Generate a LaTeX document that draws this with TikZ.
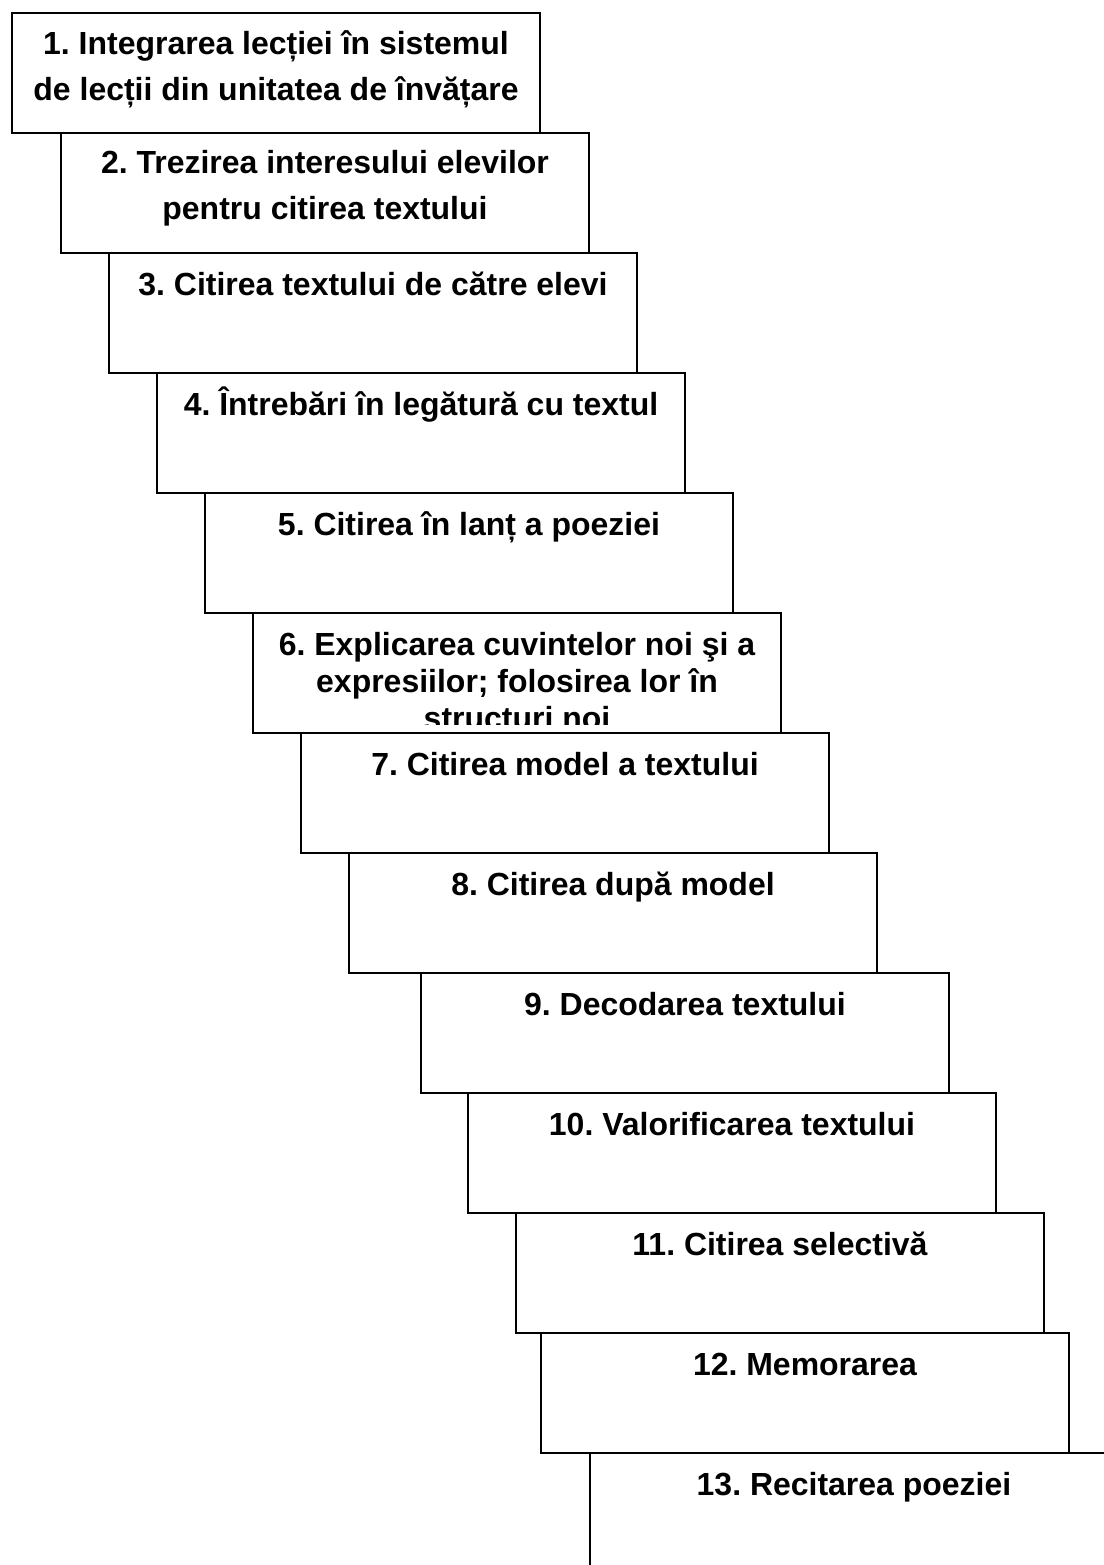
\documentclass[tikz,border=0pt]{standalone}
\usepackage{fontspec}
\setmainfont{Liberation Sans}
\frenchspacing

\tikzset{
  stepbox/.style={draw, fill=white, line width=1.2pt, minimum width=10.56cm,
    minimum height=2.4cm, inner sep=0pt, anchor=north west},
  steptext/.style={font=\bfseries\fontsize{18.2}{26}\selectfont, align=center,
    anchor=base, inner sep=0pt},
}

\begin{document}
\begin{tikzpicture}[x=0.02cm, y=-0.02cm]
\clip (0,0) rectangle (1104,1565);

% Steps 1-5 (base anchor sits on the last line)
\node[stepbox] (s1) at (11,12) {};
\node[steptext] (t1) at ([yshift=-50.4pt]s1.north) {1. Integrarea lecției în sistemul\\de lecții din unitatea de învățare};
\node[stepbox] (s2) at (60,132) {};
\node[steptext] (t2) at ([yshift=-49.8pt]s2.north) {2. Trezirea interesului elevilor\\pentru citirea textului};
\node[stepbox] (s3) at (108,252) {};
\node[steptext] (t3) at ([yshift=-24.5pt]s3.north) {3. Citirea textului de către elevi};
\node[stepbox] (s4) at (156,372) {};
\node[steptext] (t4) at ([yshift=-24.5pt]s4.north) {4. Întrebări în legătură cu textul};
\node[stepbox] (s5) at (204,492) {};
\node[steptext] (t5) at ([yshift=-24.5pt]s5.north) {5. Citirea în lanț a poeziei};

% Step 6 (text runs past the box)
\node[stepbox] (s6) at (252,612) {};
\begin{scope}
\clip (s6.north west) rectangle ([yshift=5.7pt]s6.south east);
\node[steptext, font=\bfseries\fontsize{18.2}{21}\selectfont] (t6) at ([yshift=-66.6pt]s6.north)
  {6. Explicarea cuvintelor noi şi a\\expresiilor; folosirea lor în\\structuri noi};
\end{scope}

% Steps 7-13
\node[stepbox] (s7) at (300,732) {};
\node[steptext] (t7) at ([yshift=-24.5pt]s7.north) {7. Citirea model a textului};
\node[stepbox] (s8) at (348,852) {};
\node[steptext] (t8) at ([yshift=-24.5pt]s8.north) {8. Citirea după model};
\node[stepbox] (s9) at (420,972) {};
\node[steptext] (t9) at ([yshift=-24.5pt]s9.north) {9. Decodarea textului};
\node[stepbox] (s10) at (467,1092) {};
\node[steptext] (t10) at ([yshift=-24.5pt]s10.north) {10. Valorificarea textului};
\node[stepbox] (s11) at (515,1212) {};
\node[steptext] (t11) at ([yshift=-24.5pt]s11.north) {11. Citirea selectivă};
\node[stepbox] (s12) at (540,1332) {};
\node[steptext] (t12) at ([yshift=-24.5pt]s12.north) {12. Memorarea};
\node[stepbox] (s13) at (589,1452) {};
\node[steptext] (t13) at ([yshift=-24.5pt]s13.north) {13. Recitarea poeziei};
\end{tikzpicture}
\end{document}
